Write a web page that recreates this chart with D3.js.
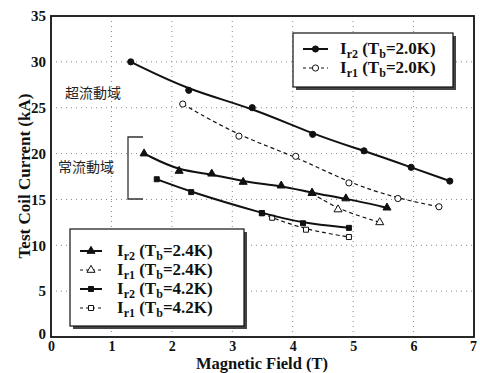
<!DOCTYPE html>
<html>
<head>
<meta charset="utf-8">
<script src="https://cdn.jsdelivr.net/npm/d3@7"></script>
<style>
  html, body { margin: 0; padding: 0; background: #fff; }
  svg { display: block; }
</style>
</head>
<body>
<svg id="chart" width="480" height="373"></svg>
<script>
// Magnetic field (T) and test coil current (kA) for each run
const ir2_20_B = [1.32, 2.28, 3.33, 4.33, 5.18, 5.96, 6.60];
const ir2_20_I = [30.0, 26.9, 25.0, 22.1, 20.3, 18.5, 17.0];
const ir1_20_B = [2.18, 3.11, 4.05, 4.93, 5.74, 6.42];
const ir1_20_I = [25.4, 21.9, 19.7, 16.8, 15.1, 14.2];
const ir2_24_B = [1.54, 2.12, 2.66, 3.18, 3.81, 4.32, 4.88, 5.56];
const ir2_24_I = [20.0, 18.1, 17.8, 16.9, 16.5, 15.7, 15.1, 14.1];
const ir1_24_B = [4.32, 4.75, 5.44];
const ir1_24_I = [15.7, 13.9, 12.5];
const ir2_42_B = [1.75, 2.32, 3.49, 4.17, 4.93];
const ir2_42_I = [17.2, 15.8, 13.5, 12.4, 11.9];
const ir1_42_B = [3.49, 3.66, 4.22, 4.93];
const ir1_42_I = [13.5, 13.0, 11.7, 10.9];

const xTicks = [0, 1, 2, 3, 4, 5, 6, 7];
const yTicks = [0, 5, 10, 15, 20, 25, 30, 35];

const serif = "'Liberation Serif', 'Times New Roman', serif";
const cjk = "'Noto Sans CJK TC', 'Noto Sans CJK JP', sans-serif";

const svg = d3.select("#chart");
const L = 51, R = 474, T = 16, B = 337;

const x = d3.scaleLinear().domain([0, 7]).range([L, R]);
const y = d3.scaleLinear().domain([0, 35]).range([B, T]);

// dotted grid
const grid = svg.append("g").attr("stroke", "#888").attr("stroke-width", 1)
  .attr("stroke-dasharray", "1,4");
xTicks.slice(1, -1).forEach(v => grid.append("line")
  .attr("x1", x(v)).attr("x2", x(v)).attr("y1", T).attr("y2", B));
yTicks.slice(1, -1).forEach(v => grid.append("line")
  .attr("x1", L).attr("x2", R).attr("y1", y(v)).attr("y2", y(v)));

// axes with labels
const xAxis = d3.axisBottom(x).tickValues(xTicks).tickFormat(d3.format("d"))
  .tickSize(0).tickPadding(4);
const gx = svg.append("g").attr("transform", `translate(0,${B})`).call(xAxis);
gx.select(".domain").remove();
gx.selectAll("text").attr("font-family", serif).attr("font-weight", "bold")
  .attr("font-size", 14).attr("fill", "#111");
gx.selectAll(".tick").filter(d => d === 7).select("text").attr("dx", -1);

const yAxis = d3.axisLeft(y).tickValues(yTicks).tickFormat(d3.format("d"))
  .tickSize(0).tickPadding(5);
const gy = svg.append("g").attr("transform", `translate(${L},0)`).call(yAxis);
gy.select(".domain").remove();
gy.selectAll("text").attr("font-family", serif).attr("font-weight", "bold")
  .attr("font-size", 15).attr("fill", "#111");
gy.selectAll(".tick").filter(d => d === 0).select("text").attr("dy", "0.1em");

// plot frame
svg.append("rect").attr("x", L).attr("y", T).attr("width", R - L).attr("height", B - T)
  .attr("fill", "none").attr("stroke", "#111").attr("stroke-width", 1.8);

// axis titles
svg.append("text").attr("x", 262).attr("y", 369).attr("text-anchor", "middle")
  .attr("font-family", serif).attr("font-weight", "bold").attr("font-size", 16.5)
  .attr("fill", "#111").text("Magnetic Field (T)");
svg.append("text").attr("transform", "translate(30,176) rotate(-90)")
  .attr("text-anchor", "middle").attr("font-family", serif).attr("font-weight", "bold")
  .attr("font-size", 17).attr("fill", "#111").text("Test Coil Current (kA)");

// region annotations
svg.append("text").attr("x", 65).attr("y", 98).attr("font-family", cjk)
  .attr("font-size", 14).attr("fill", "#222").text("超流動域");
svg.append("text").attr("x", 58).attr("y", 172).attr("font-family", cjk)
  .attr("font-size", 14).attr("fill", "#222").text("常流動域");
svg.append("path").attr("d", `M143,137 H128 V199 H143`).attr("fill", "none")
  .attr("stroke", "#333").attr("stroke-width", 1.3);

// series definitions
const series = [
  {B: ir1_20_B, I: ir1_20_I, dash: true,  shape: "circle",   fill: false},
  {B: ir2_20_B, I: ir2_20_I, dash: false, shape: "circle",   fill: true},
  {B: ir1_24_B, I: ir1_24_I, dash: true,  shape: "triangle", fill: false},
  {B: ir1_42_B, I: ir1_42_I, dash: true,  shape: "square",   fill: false},
  {B: ir2_24_B, I: ir2_24_I, dash: false, shape: "triangle", fill: true},
  {B: ir2_42_B, I: ir2_42_I, dash: false, shape: "square",   fill: true}
];

const symbolType = {circle: d3.symbolCircle, triangle: d3.symbolTriangle, square: d3.symbolSquare};
const symbolSize = {circle: 30, triangle: 28, square: 25};

const line = d3.line().x(d => x(d[0])).y(d => y(d[1])).curve(d3.curveBasis);

series.forEach(s => {
  const pts = s.B.map((b, i) => [b, s.I[i]]);
  svg.append("path").datum(pts).attr("d", line).attr("fill", "none")
    .attr("stroke", "#111").attr("stroke-width", s.dash ? 1.2 : 2)
    .attr("stroke-dasharray", s.dash ? "4,3" : null);
  svg.append("g").selectAll("path").data(pts).join("path")
    .attr("transform", d => `translate(${x(d[0])},${y(d[1])})`)
    .attr("d", d3.symbol().type(symbolType[s.shape]).size(symbolSize[s.shape]))
    .attr("fill", s.fill ? "#111" : "#fff").attr("stroke", "#111").attr("stroke-width", 1);
});

// legends
function legendLabel(g, tx, ty, sub, temp) {
  const t = g.append("text").attr("x", tx).attr("y", ty).attr("font-family", serif)
    .attr("font-weight", "bold").attr("font-size", 17).attr("fill", "#111");
  t.append("tspan").text("I");
  t.append("tspan").attr("font-size", 12).attr("dy", 4).text(sub);
  t.append("tspan").attr("dy", -4).text(" (T");
  t.append("tspan").attr("font-size", 12).attr("dy", 4).text("b");
  t.append("tspan").attr("dy", -4).text("=" + temp + ")");
}
function legendRow(g, x0, x1, yy, s, tx, sub, temp) {
  g.append("line").attr("x1", x0).attr("x2", x1).attr("y1", yy).attr("y2", yy)
    .attr("stroke", "#111").attr("stroke-width", s.dash ? 1.2 : 2)
    .attr("stroke-dasharray", s.dash ? "3,3" : null);
  g.append("path").attr("transform", `translate(${(x0 + x1) / 2},${yy})`)
    .attr("d", d3.symbol().type(symbolType[s.shape]).size(symbolSize[s.shape])())
    .attr("fill", s.fill ? "#111" : "#fff").attr("stroke", "#111").attr("stroke-width", 1);
  legendLabel(g, tx, yy + 5, sub, temp);
}

const leg1 = svg.append("g");
leg1.append("rect").attr("x", 296).attr("y", 36).attr("width", 160).attr("height", 54).attr("fill", "#444");
leg1.append("rect").attr("x", 293).attr("y", 33).attr("width", 160).attr("height", 54)
  .attr("fill", "#fff").attr("stroke", "#111").attr("stroke-width", 1.2);
legendRow(leg1, 303, 328, 49, series[1], 340, "r2", "2.0K");
legendRow(leg1, 303, 328, 68, series[0], 340, "r1", "2.0K");

const leg2 = svg.append("g");
leg2.append("rect").attr("x", 73).attr("y", 232).attr("width", 174).attr("height", 97).attr("fill", "#444");
leg2.append("rect").attr("x", 70).attr("y", 229).attr("width", 174).attr("height", 97)
  .attr("fill", "#fff").attr("stroke", "#111").attr("stroke-width", 1.2);
legendRow(leg2, 80, 102, 251, series[4], 117, "r2", "2.4K");
legendRow(leg2, 80, 102, 270, series[2], 117, "r1", "2.4K");
legendRow(leg2, 80, 102, 289, series[5], 117, "r2", "4.2K");
legendRow(leg2, 80, 102, 308, series[3], 117, "r1", "4.2K");
</script>
</body>
</html>
